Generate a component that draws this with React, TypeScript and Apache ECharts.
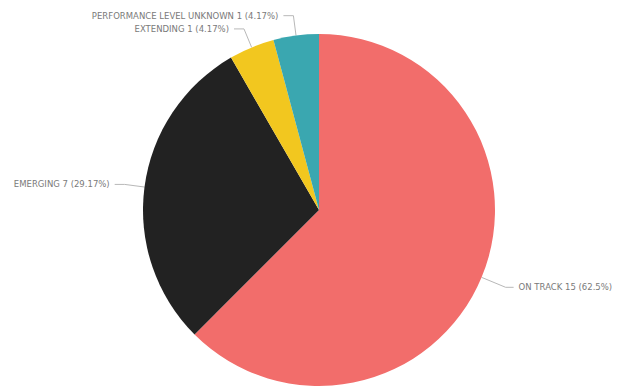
import React, { useEffect, useRef } from "react";
import * as echarts from "echarts";

const categories = ["ON TRACK", "EMERGING", "EXTENDING", "PERFORMANCE LEVEL UNKNOWN"];
const values = [15, 7, 1, 1];
const colors = ["#f26d6b", "#222222", "#f2c71f", "#3aa7b0"];

const total = values.reduce((a, b) => a + b, 0);
const pct = (v: number) => String(parseFloat(((v / total) * 100).toFixed(2)));

export default function App() {
  const ref = useRef<HTMLDivElement>(null);
  useEffect(() => {
    document.body.style.margin = "0";
    const chart = echarts.init(ref.current!, null, { renderer: "svg" });
    chart.setOption({
      animation: false,
      backgroundColor: "#ffffff",
      series: [
        {
          type: "pie",
          center: [319, 210],
          radius: 176,
          startAngle: 90,
          clockwise: true,
          avoidLabelOverlap: true,
          data: categories.map((c, i) => ({
            name: c,
            value: values[i],
            itemStyle: { color: colors[i] },
            labelLine: i === 0 ? { length: 26, length2: 8 } : undefined,
          })),
          itemStyle: { borderWidth: 0 },
          label: {
            formatter: (p: any) => `${p.name} ${p.value} (${pct(p.value)}%)`,
            color: "#7a7a7a",
            fontSize: 8.5,
            fontFamily: "DejaVu Sans",
            overflow: "none",
          },
          labelLine: {
            length: 20,
            length2: 10,
            lineStyle: { color: "#b8b8b8", width: 1 },
          },
        },
      ],
    });
    return () => chart.dispose();
  }, []);
  return <div ref={ref} style={{ width: 619, height: 387 }} />;
}
